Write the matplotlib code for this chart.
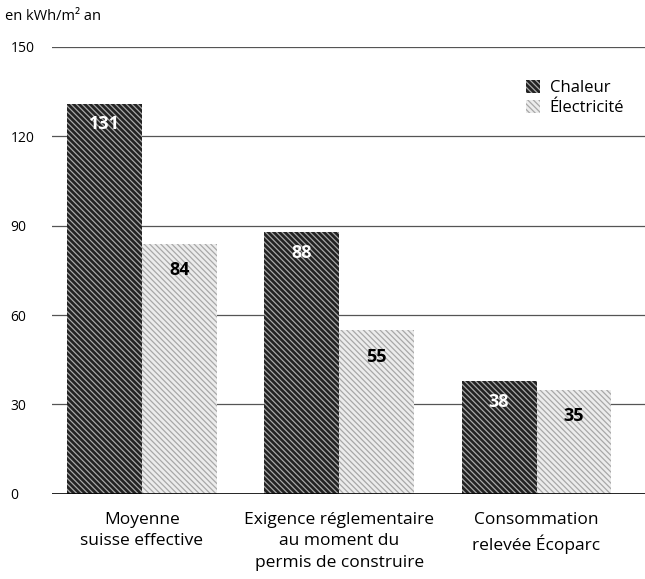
import matplotlib.pyplot as plt
import numpy as np

plt.rcParams['font.family'] = ['Open Sans', 'DejaVu Sans']
plt.rcParams['hatch.linewidth'] = 0.9

categories = ['Moyenne\nsuisse effective',
              'Exigence réglementaire\nau moment du\npermis de construire',
              'Consommation\nrelevée Écoparc']
chaleur = [131, 88, 38]
electricite = [84, 55, 35]
yticks = [0, 30, 60, 90, 120, 150]

fig = plt.figure(figsize=(6.45, 5.79), dpi=100)
ax = fig.add_axes([0.081, 0.147, 0.919, 0.772])

x = np.arange(len(categories))
w = 0.38

# grille derrière les barres
for t in yticks[1:]:
    ax.axhline(t, color='#555555', lw=0.9, zorder=0)
ax.axhline(0, color='black', lw=1.2, zorder=3)

ax.bar(x - w / 2, chaleur, w, facecolor='#222222', edgecolor='#a8a8a8',
       hatch='\\\\\\\\\\\\', lw=0, zorder=2, label='Chaleur')
ax.bar(x + w / 2, electricite, w, facecolor='#ececec', edgecolor='#a8a8a8',
       hatch='\\\\\\\\\\\\', lw=0, zorder=2, label='Électricité')

for xi, v in zip(x - w / 2, chaleur):
    ax.text(xi, v - 7, str(v), ha='center', va='center', color='white',
            fontsize=13, fontweight='bold', zorder=4)
for xi, v in zip(x + w / 2, electricite):
    ax.text(xi, v - 9, str(v), ha='center', va='center', color='black',
            fontsize=13, fontweight='bold', zorder=4)

ax.set_xlim(-0.455, 2.55)
ax.set_ylim(0, 150)
ax.set_yticks(yticks)
ax.set_yticklabels([str(t) for t in yticks], fontsize=10, ha='left')
ax.tick_params(axis='y', length=0, pad=30)
ax.set_xticks(x)
ax.set_xticklabels(categories, fontsize=12.5, linespacing=1.45)
ax.tick_params(axis='x', length=0, pad=13)
for s in ax.spines.values():
    s.set_visible(False)

fig.text(0.008, 0.972, 'en kWh/m² an', fontsize=10.5, va='center')

ax.legend(loc='upper right', bbox_to_anchor=(0.99, 0.96), frameon=False,
          fontsize=12, handlelength=0.8, handleheight=0.8, handletextpad=0.6,
          labelspacing=0.25)

fig.savefig('out.png', dpi=100)
